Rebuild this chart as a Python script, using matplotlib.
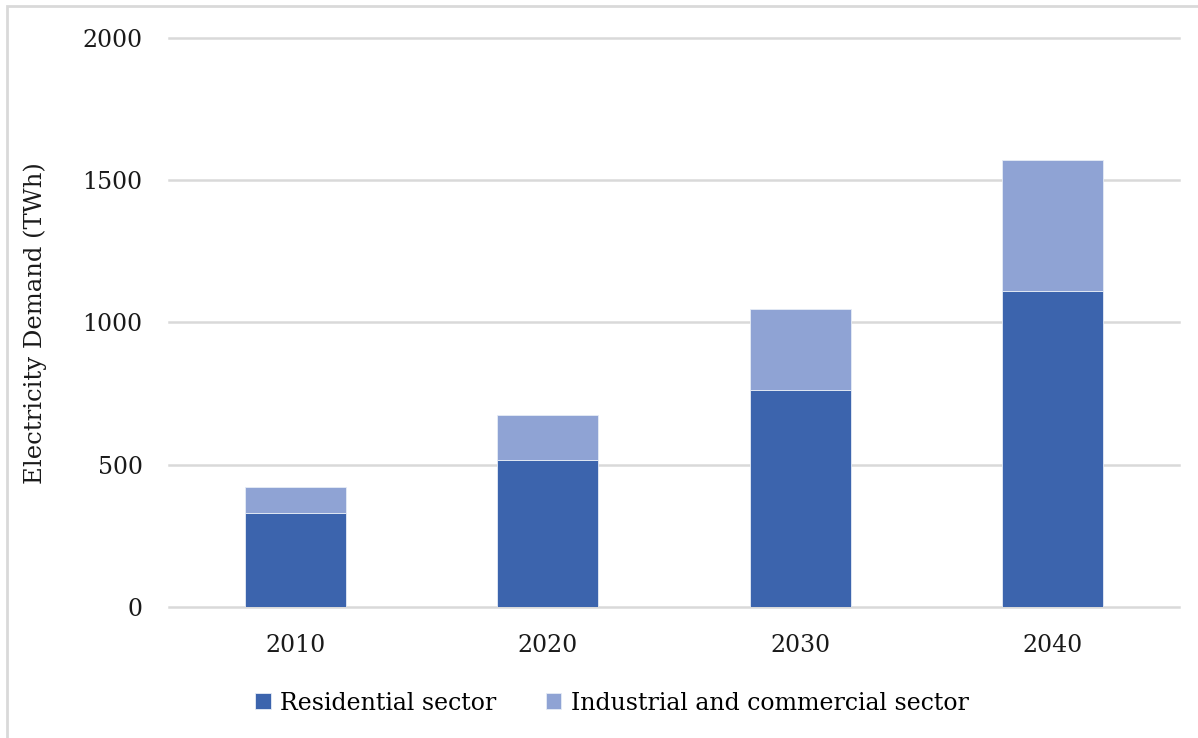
import numpy as np
import matplotlib.pyplot as plt
from matplotlib.patches import Rectangle

# Electricity demand by sector, TWh
years = ['2010', '2020', '2030', '2040']
residential = [329, 515, 762, 1109]
industrial = [93, 160, 284, 463]

dark_blue = '#3C64AD'
light_blue = '#8FA3D4'

plt.rcParams['font.family'] = ['DejaVu Serif']

fig = plt.figure(figsize=(11.98, 7.38), dpi=100)
ax = fig.add_axes([169 / 1198, 1 - 606.7 / 738, 1010 / 1198, (606.7 - 37.9) / 738])

x = np.arange(len(years))
ax.bar(x, residential, width=0.4, color=dark_blue, edgecolor='#E6ECF6', linewidth=0.6,
       label='Residential sector', zorder=3)
ax.bar(x, industrial, width=0.4, bottom=residential, color=light_blue, edgecolor='#E6ECF6',
       linewidth=0.6, label='Industrial and commercial sector', zorder=3)

ax.set_xlim(-0.5, len(years) - 0.5)
ax.set_ylim(0, 2000)
ax.set_yticks([0, 500, 1000, 1500, 2000])
ax.set_xticks(x)
ax.set_xticklabels(years)
ax.yaxis.grid(True, color='#D9D9D9', linewidth=1.8, zorder=0)
for gl in ax.get_ygridlines():
    gl.set_clip_on(False)
ax.tick_params(axis='both', length=0, labelsize=17, colors='#1a1a1a')
ax.tick_params(axis='y', pad=19)
ax.tick_params(axis='x', pad=20)
for s in ax.spines.values():
    s.set_visible(False)

fig.text(35 / 1198, 1 - 323 / 738, 'Electricity Demand (TWh)', rotation=90,
         ha='center', va='center', fontsize=17.5, color='#1a1a1a')

handles, labels = ax.get_legend_handles_labels()
fig.legend(handles, labels, loc='center', bbox_to_anchor=(612 / 1198, 1 - 703 / 738),
           ncol=2, frameon=False, fontsize=17, handlelength=0.65, handleheight=0.65,
           handletextpad=0.4, columnspacing=2.1)

# light frame round the chart area
fig.patches.append(Rectangle((7 / 1198, -0.1), 1.2, 1 - 6 / 738 + 0.1,
                             transform=fig.transFigure, fill=False,
                             edgecolor='#D9D9D9', linewidth=2))

fig.savefig('out.png', dpi=100, facecolor='white')
